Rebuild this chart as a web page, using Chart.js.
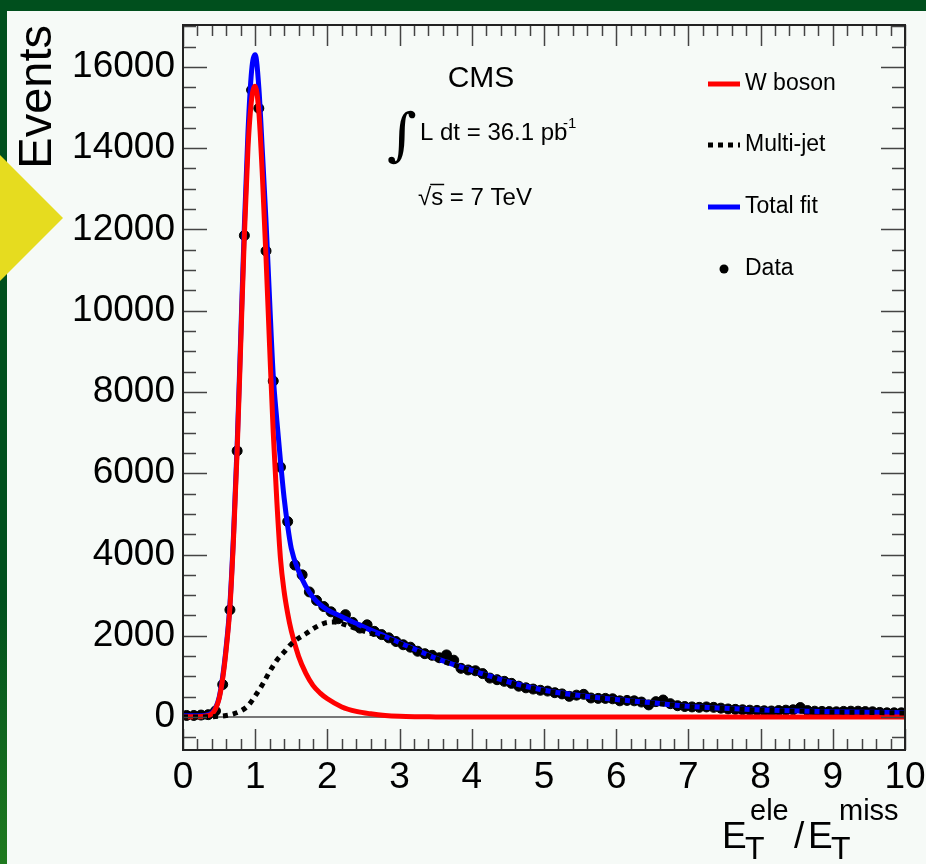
<!DOCTYPE html>
<html>
<head>
<meta charset="utf-8">
<script src="https://cdn.jsdelivr.net/npm/chart.js@4.4.1/dist/chart.umd.min.js"></script>
<style>
  html, body { margin: 0; padding: 0; background: #004f1d; }
  canvas { display: block; }
</style>
</head>
<body>
<canvas id="myChart" width="926" height="864"></canvas>
<script>
// bin centres of the data histogram (bin width 0.1)
const binCenters = [
  0.05, 0.15, 0.25, 0.35, 0.45, 0.55, 0.65, 0.75, 0.85, 0.95,
  1.05, 1.15, 1.25, 1.35, 1.45, 1.55, 1.65, 1.75, 1.85, 1.95,
  2.05, 2.15, 2.25, 2.35, 2.45, 2.55, 2.65, 2.75, 2.85, 2.95,
  3.05, 3.15, 3.25, 3.35, 3.45, 3.55, 3.65, 3.75, 3.85, 3.95,
  4.05, 4.15, 4.25, 4.35, 4.45, 4.55, 4.65, 4.75, 4.85, 4.95,
  5.05, 5.15, 5.25, 5.35, 5.45, 5.55, 5.65, 5.75, 5.85, 5.95,
  6.05, 6.15, 6.25, 6.35, 6.45, 6.55, 6.65, 6.75, 6.85, 6.95,
  7.05, 7.15, 7.25, 7.35, 7.45, 7.55, 7.65, 7.75, 7.85, 7.95,
  8.05, 8.15, 8.25, 8.35, 8.45, 8.55, 8.65, 8.75, 8.85, 8.95,
  9.05, 9.15, 9.25, 9.35, 9.45, 9.55, 9.65, 9.75, 9.85, 9.95
];
const dataEvents = [
  40, 40, 50, 60, 150, 800, 2640, 6550, 11850, 15430,
  14980, 11470, 8270, 6150, 4810, 3740, 3500, 3080, 2870, 2720,
  2590, 2420, 2520, 2330, 2190, 2270, 2110, 2030, 1950, 1860,
  1780, 1720, 1620, 1560, 1520, 1460, 1530, 1400, 1200, 1160,
  1140, 1070, 960, 920, 880, 830, 760, 720, 690, 660,
  640, 600, 570, 510, 540, 560, 470, 460, 460, 450,
  400, 410, 400, 370, 300, 380, 420, 330, 280, 260,
  250, 240, 250, 240, 220, 200, 190, 180, 170, 165,
  155, 150, 160, 170, 180, 235, 160, 145, 140, 135,
  130, 140, 145, 145, 135, 130, 115, 105, 105, 105
];

// fitted curves
const fitX = [
  0, 0.1, 0.2, 0.3, 0.4, 0.45, 0.5, 0.55, 0.6, 0.65, 0.7, 0.75, 0.8, 0.85, 0.9, 0.95,
  1.0, 1.05, 1.1, 1.15, 1.2, 1.25, 1.3, 1.35, 1.4, 1.45, 1.5, 1.6, 1.7, 1.8, 1.9, 2.0,
  2.2, 2.4, 2.6, 2.8, 3.0, 3.25, 3.5, 3.75, 4.0, 4.5, 5.0, 5.5, 6.0, 6.5, 7.0, 7.5,
  8.0, 8.5, 9.0, 9.5, 10
];
const wBoson = [
  10, 10, 10, 20, 80, 200, 450, 950, 1700, 2700, 4400, 6550, 9200, 11850, 14000, 15200,
  15520, 14900, 13300, 11300, 9100, 7000, 5300, 3900, 3100, 2550, 2120, 1500, 1080, 780, 590, 450,
  250, 140, 80, 40, 20, 10, 5, 0, 0, 0, 0, 0, 0, 0, 0, 0,
  0, 0, 0, 0, 0
];
const totalFit = [
  30, 30, 30, 40, 100, 220, 480, 1000, 1760, 2780, 4500, 6700, 9400, 12100, 14400, 15900,
  16300, 15500, 13900, 12200, 10250, 8400, 7300, 6300, 5400, 4700, 4150, 3600, 3220, 2950, 2770, 2640,
  2470, 2300, 2140, 1990, 1830, 1640, 1450, 1290, 1150, 870, 660, 530, 430, 350, 265, 215,
  175, 150, 130, 120, 105
];
const jetX = [
  0, 0.2, 0.4, 0.5, 0.6, 0.7, 0.8, 0.9, 1.0, 1.1, 1.2, 1.3, 1.4, 1.5, 1.6, 1.7, 1.8, 1.9,
  2.0, 2.1, 2.2, 2.4, 2.6, 2.8, 3.0, 3.25, 3.5, 3.75, 4.0, 4.5, 5.0, 5.5, 6.0, 6.5, 7.0,
  7.5, 8.0, 8.5, 9.0, 9.5, 10
];
const multiJet = [
  0, 0, 10, 20, 40, 80, 150, 280, 520, 800, 1120, 1400, 1600, 1800, 1940, 2050, 2170, 2270,
  2330, 2340, 2300, 2180, 2060, 1950, 1810, 1620, 1440, 1280, 1140, 860, 650, 525, 425, 345, 260,
  210, 170, 145, 125, 115, 100
];

const xTickValues = [0, 1, 2, 3, 4, 5, 6, 7, 8, 9, 10];
const yTickValues = [0, 2000, 4000, 6000, 8000, 10000, 12000, 14000, 16000];

const FONT = "'Liberation Sans', Arial, sans-serif";

function points(xs, ys) {
  return xs.map((x, i) => ({x: x, y: ys[i]}));
}

function noPadding(s) {
  s.paddingTop = 0;
  s.paddingBottom = 0;
  s.paddingLeft = 0;
  s.paddingRight = 0;
}

// background, ROOT-style frame, legend and labels
const rootStyle = {
  id: 'rootStyle',
  beforeDraw(chart) {
    const ctx = chart.ctx;
    ctx.save();
    ctx.fillStyle = '#004f1d';
    ctx.fillRect(0, 0, chart.width, chart.height);
    const g = ctx.createLinearGradient(0, 600, 0, 864);
    g.addColorStop(0, '#004f1d');
    g.addColorStop(1, '#1f7a1f');
    ctx.fillStyle = g;
    ctx.fillRect(0, 600, 7, 264);
    ctx.fillStyle = '#f6faf7';
    ctx.fillRect(7, 11, chart.width - 7, chart.height - 11);
    // yellow diamond on the left edge
    ctx.fillStyle = '#e6dc1f';
    ctx.beginPath();
    ctx.moveTo(63, 218);
    ctx.lineTo(-3, 152);
    ctx.lineTo(-69, 218);
    ctx.lineTo(-3, 284);
    ctx.closePath();
    ctx.fill();
    ctx.restore();
  },
  beforeDatasetsDraw(chart) {
    const ctx = chart.ctx, a = chart.chartArea;
    const y0 = chart.scales.y.getPixelForValue(0);
    ctx.save();
    ctx.strokeStyle = '#777';
    ctx.lineWidth = 2;
    ctx.beginPath();
    ctx.moveTo(a.left, y0);
    ctx.lineTo(a.right, y0);
    ctx.stroke();
    ctx.restore();
  },
  afterDraw(chart) {
    const ctx = chart.ctx, a = chart.chartArea;
    const xs = chart.scales.x, ys = chart.scales.y;
    ctx.save();
    // ticks on all four sides, pointing inwards
    ctx.strokeStyle = '#444';
    ctx.lineWidth = 1.5;
    ctx.beginPath();
    for (let i = 0; i <= 50; i++) {
      const px = Math.round(xs.getPixelForValue(i / 5)) + 0.5;
      const len = i % 5 === 0 ? 21 : 11;
      ctx.moveTo(px, a.bottom); ctx.lineTo(px, a.bottom - len);
      ctx.moveTo(px, a.top); ctx.lineTo(px, a.top + len);
    }
    for (let i = -1; i <= 34; i++) {
      const v = i * 500;
      if (v < ys.min || v > ys.max) continue;
      const py = Math.round(ys.getPixelForValue(v)) + 0.5;
      const len = i % 4 === 0 ? 24 : 13;
      ctx.moveTo(a.left, py); ctx.lineTo(a.left + len, py);
      ctx.moveTo(a.right, py); ctx.lineTo(a.right - len, py);
    }
    ctx.stroke();
    ctx.strokeStyle = '#222';
    ctx.lineWidth = 2;
    ctx.strokeRect(a.left, a.top, a.right - a.left, a.bottom - a.top);

    // annotations
    ctx.fillStyle = '#000';
    ctx.textBaseline = 'alphabetic';
    ctx.textAlign = 'center';
    ctx.font = '30px ' + FONT;
    ctx.fillText('CMS', 481, 87);
    ctx.textAlign = 'left';
    ctx.font = '57px DejaVu Serif';
    ctx.fillText('\u222B', 387, 154);
    ctx.font = '24px ' + FONT;
    ctx.fillText('L dt = 36.1 pb', 420, 140);
    ctx.font = '15px ' + FONT;
    ctx.fillText('-1', 563, 128);
    ctx.font = '24px ' + FONT;
    ctx.fillText('\u221A', 418, 205);
    const rw = ctx.measureText('\u221A').width;
    const sw = ctx.measureText('s').width;
    ctx.fillText('s = 7 TeV', 418 + rw, 205);
    ctx.lineWidth = 1.5;
    ctx.strokeStyle = '#000';
    ctx.beginPath();
    ctx.moveTo(418 + rw - 1, 184.5);
    ctx.lineTo(418 + rw + sw + 1, 184.5);
    ctx.stroke();

    // legend
    const ds = chart.data.datasets;
    const lx = 708, lw = 32, tx = 745;
    ctx.font = '23px ' + FONT;
    ctx.textBaseline = 'middle';
    const entries = [
      {d: ds[1], y: 84},
      {d: ds[0], y: 145},
      {d: ds[2], y: 207},
      {d: ds[3], y: 269}
    ];
    entries.forEach(e => {
      const d = e.d;
      if (d.type === 'line') {
        ctx.save();
        ctx.strokeStyle = d.borderColor;
        ctx.lineWidth = d.borderWidth;
        ctx.setLineDash(d.borderDash || []);
        ctx.beginPath();
        ctx.moveTo(lx, e.y);
        ctx.lineTo(lx + lw, e.y);
        ctx.stroke();
        ctx.restore();
      } else {
        ctx.beginPath();
        ctx.arc(lx + lw / 2, e.y, 4.5, 0, Math.PI * 2);
        ctx.fillStyle = d.backgroundColor;
        ctx.fill();
      }
      ctx.fillStyle = '#000';
      ctx.fillText(d.label, tx, e.y);
    });

    // x axis title with sub- and superscripts
    ctx.textBaseline = 'alphabetic';
    ctx.font = '37px ' + FONT;
    ctx.fillText('E', 722, 848);
    ctx.fillText('/', 794, 848);
    ctx.fillText('E', 808, 848);
    ctx.font = '32px ' + FONT;
    ctx.fillText('T', 745, 859);
    ctx.fillText('T', 831, 859);
    ctx.font = '29px ' + FONT;
    ctx.fillText('ele', 750, 820);
    ctx.fillText('miss', 839, 820);
    ctx.restore();
  }
};

const ctx = document.getElementById('myChart').getContext('2d');
const myChart = new Chart(ctx, {
  type: 'scatter',
  data: {
    datasets: [
      {
        label: 'Multi-jet',
        type: 'line',
        data: points(jetX, multiJet),
        borderColor: '#000000',
        borderWidth: 5,
        borderDash: [5, 5],
        borderCapStyle: 'butt',
        cubicInterpolationMode: 'monotone',
        pointRadius: 0,
        fill: false,
        order: 0
      },
      {
        label: 'W boson',
        type: 'line',
        data: points(fitX, wBoson),
        borderColor: '#ff0000',
        borderWidth: 5,
        cubicInterpolationMode: 'monotone',
        pointRadius: 0,
        fill: false,
        order: 1
      },
      {
        label: 'Total fit',
        type: 'line',
        data: points(fitX, totalFit),
        borderColor: '#0000ff',
        borderWidth: 5,
        cubicInterpolationMode: 'monotone',
        pointRadius: 0,
        fill: false,
        order: 2
      },
      {
        label: 'Data',
        type: 'scatter',
        data: points(binCenters, dataEvents),
        backgroundColor: '#000000',
        borderColor: '#000000',
        pointRadius: 5,
        pointHoverRadius: 5,
        order: 3
      }
    ]
  },
  options: {
    animation: false,
    responsive: false,
    devicePixelRatio: 1,
    layout: { padding: { top: 25, right: 21, left: 0, bottom: 0 } },
    plugins: { legend: { display: false }, tooltip: { enabled: false } },
    scales: {
      x: {
        type: 'linear',
        min: 0,
        max: 10,
        afterBuildTicks: (s) => { s.ticks = xTickValues.map(v => ({value: v})); },
        afterFit: (s) => { s.height = 114; noPadding(s); },
        grid: { display: false, drawTicks: false },
        border: { display: false },
        ticks: {
          font: { family: FONT, size: 37 },
          color: '#000',
          padding: 6,
          maxRotation: 0,
          autoSkip: false,
          callback: (v) => String(v)
        }
      },
      y: {
        type: 'linear',
        min: -810,
        max: 17030,
        afterBuildTicks: (s) => { s.ticks = yTickValues.map(v => ({value: v})); },
        afterFit: (s) => { s.width = 183; noPadding(s); },
        grid: { display: false, drawTicks: false },
        border: { display: false },
        ticks: {
          font: { family: FONT, size: 37 },
          color: '#000',
          padding: 8,
          autoSkip: false,
          callback: (v) => String(v)
        },
        title: {
          display: true,
          text: 'Events',
          align: 'end',
          color: '#000',
          font: { family: FONT, size: 47 },
          padding: { top: 10, bottom: 0 }
        }
      }
    }
  },
  plugins: [rootStyle]
});
</script>
</body>
</html>
